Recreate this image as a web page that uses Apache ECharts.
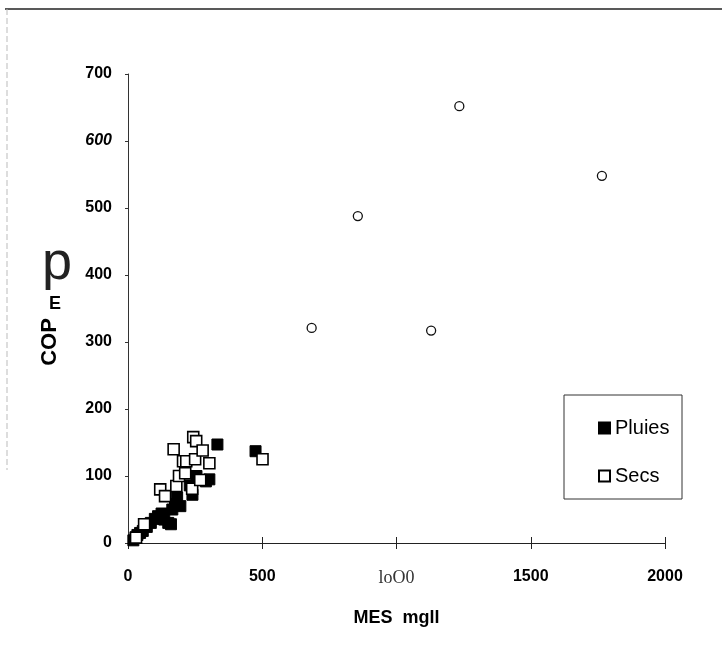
<!DOCTYPE html>
<html><head><meta charset="utf-8">
<script src="https://cdn.jsdelivr.net/npm/echarts@6/dist/echarts.min.js"></script>
<style>html,body{margin:0;padding:0;background:#fff}#c{width:722px;height:655px}</style>
</head><body><div id="c"></div>
<script>
// MES (mg/l) vs COP
const pluies = [
  [20,4],[28,8],[35,12],[45,15],[55,18],[70,24],[85,30],[100,36],[112,40],
  [125,44],[135,35],[150,30],[160,28],[165,50],[175,58],[183,68],[195,55],
  [230,86],[240,72],[255,100],[290,92],[303,95],[333,147],[475,137]
];
const secs = [
  [30,8],[60,28],[120,80],[138,70],[170,140],[180,85],[190,100],[205,122],
  [213,104],[217,122],[239,81],[243,158],[250,125],[254,152],[269,94],
  [278,138],[303,119],[501,125]
];
const autres = [[684,321],[856,488],[1129,317],[1234,652],[1765,548]];
const xTickLabels = ['0','500','loO0','1500','2000'];
const yTickLabels = ['0','100','200','300','400','500','600','700'];
const seriesNames = ['Pluies','Secs'];

const chart = echarts.init(document.getElementById('c'), null, {renderer:'canvas'});
const option = {
  animation:false,
  backgroundColor:'#fff',
  grid:{left:128,right:57,top:74,bottom:112},
  xAxis:[{
    type:'value',min:0,max:2000,interval:500,position:'bottom',
    axisLine:{lineStyle:{color:'#222',width:1}},
    axisTick:{length:6,lineStyle:{color:'#222'}},
    splitLine:{show:false},
    axisLabel:{
      margin:26,fontFamily:'Liberation Sans',fontWeight:'bold',fontSize:16,color:'#000',
      formatter:function(v){const i=Math.round(v/500);const t=xTickLabels[i];return i===2?'{s|'+t+'}':t;},
      rich:{s:{fontFamily:'Liberation Serif',fontWeight:'normal',fontSize:18,color:'#333'}}
    },
    name:'MES  mgll',nameLocation:'middle',nameGap:66,
    nameTextStyle:{fontFamily:'Liberation Sans',fontWeight:'bold',fontSize:18,color:'#000'}
  },{
    type:'value',min:0,max:2000,interval:500,position:'bottom',offset:0,
    axisLine:{show:false},
    axisTick:{show:true,inside:true,length:6,lineStyle:{color:'#222'}},
    axisLabel:{show:false},splitLine:{show:false}
  }],
  yAxis:{
    type:'value',min:0,max:700,interval:100,
    axisLine:{show:true,lineStyle:{color:'#333',width:1}},
    axisTick:{show:true,length:3,lineStyle:{color:'#333'}},
    splitLine:{show:false},
    axisLabel:{
      margin:16,fontFamily:'Liberation Sans',fontWeight:'bold',fontSize:16,color:'#000',
      formatter:function(v){const i=Math.round(v/100);const t=yTickLabels[i];return i===6?'{i|'+t+'}':t;},
      rich:{i:{fontStyle:'italic',fontWeight:'bold',fontFamily:'Liberation Sans',fontSize:16,color:'#000'}}
    }
  },
  legend:{
    data:seriesNames,orient:'vertical',left:593,top:413,itemGap:28,
    itemWidth:11,itemHeight:11,
    textStyle:{fontFamily:'Liberation Sans',fontSize:20,color:'#000'},
    selectedMode:false
  },
  series:[
    {name:'Pluies',type:'scatter',data:pluies,symbol:'rect',symbolSize:11,
     itemStyle:{color:'#000',borderColor:'#000',borderWidth:1,opacity:1},z:2},
    {name:'Secs',type:'scatter',data:secs,symbol:'rect',symbolSize:11,
     itemStyle:{color:'#fff',borderColor:'#000',borderWidth:1.6,opacity:1},z:3},
    {name:'Autres',type:'scatter',data:autres,symbol:'circle',symbolSize:9,
     itemStyle:{color:'#fff',borderColor:'#111',borderWidth:1.3,opacity:1},z:3}
  ],
  graphic:[
    {type:'line',shape:{x1:5,y1:9,x2:722,y2:9},style:{stroke:'#222',lineWidth:1.5},silent:true},
    {type:'line',shape:{x1:7,y1:9,x2:7,y2:470},style:{stroke:'#bbb',lineWidth:1,lineDash:[6,3]},silent:true},
    {type:'rect',shape:{x:564,y:395,width:118,height:104},style:{fill:null,stroke:'#333',lineWidth:1},silent:true,z:-1},
    {type:'text',x:50,y:342,rotation:Math.PI/2,style:{text:'COP',font:'bold 22px "Liberation Sans"',fill:'#000',align:'center',verticalAlign:'middle'},silent:true},
    {type:'text',x:55,y:304,style:{text:'E',font:'bold 18px "Liberation Sans"',fill:'#000',align:'center',verticalAlign:'middle'},silent:true},
    {type:'text',x:57,y:264,style:{text:'p',font:'54px "Liberation Sans"',fill:'#222',align:'center',verticalAlign:'middle'},silent:true}
  ]
};
chart.setOption(option);
</script></body></html>
